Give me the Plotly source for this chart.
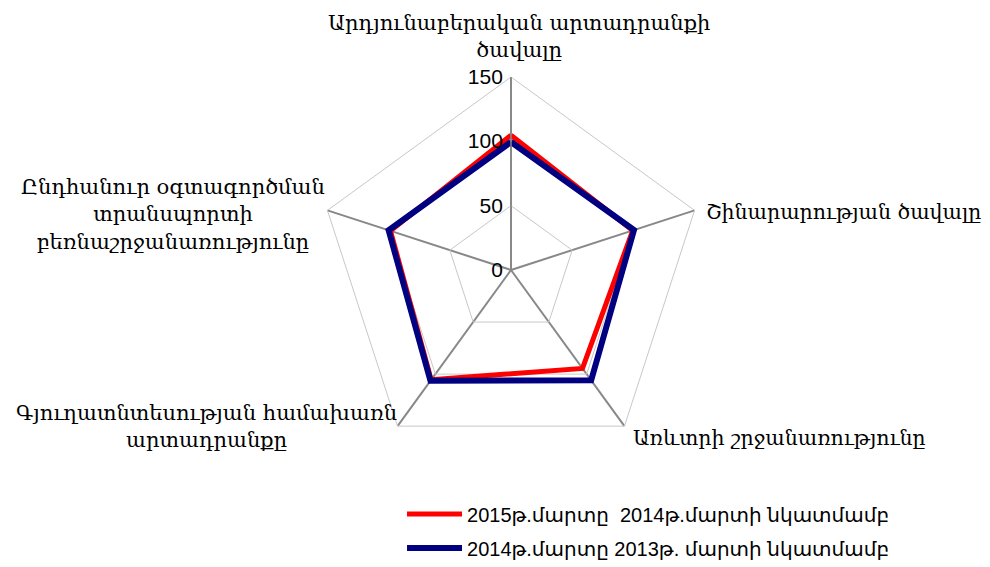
import plotly.graph_objects as go

categories = [
    "Արդյունաբերական արտադրանքի<br>ծավալը",
    "Շինարարության ծավալը",
    "Առևտրի շրջանառությունը",
    "Գյուղատնտեսության համախառն<br>արտադրանքը",
    "Ընդհանուր օգտագործման<br>տրանսպորտի<br>բեռնաշրջանառությունը",
]
series_2015 = [104.8, 99.5, 94.5, 105.5, 98.5]
series_2014 = [99.5, 100.5, 106.0, 106.5, 100.0]
name_2015 = "2015թ.մարտը  2014թ.մարտի նկատմամբ"
name_2014 = "2014թ.մարտը 2013թ. մարտի նկատմամբ"
radial_ticks = [0, 50, 100, 150]

keys = ["c%d" % i for i in range(len(categories))]

fig = go.Figure()
fig.add_trace(go.Scatterpolar(
    r=series_2015 + series_2015[:1], theta=keys + keys[:1], mode="lines",
    line=dict(color="#ff0000", width=5), name=name_2015, legendgroup="a"))
fig.add_trace(go.Scatterpolar(
    r=series_2014 + series_2014[:1], theta=keys + keys[:1], mode="lines",
    line=dict(color="#000080", width=6), name=name_2014, legendgroup="b"))

cx, cy, R = 503, 262, 193
fig.update_layout(
    width=990, height=567,
    margin=dict(l=0, r=0, t=0, b=0),
    paper_bgcolor="white", plot_bgcolor="white",
    polar=dict(
        domain=dict(x=[(cx - R) / 990, (cx + R) / 990],
                    y=[(567 - cy - R) / 567, (567 - cy + R) / 567]),
        gridshape="linear",
        bgcolor="white",
        radialaxis=dict(
            range=[0, 150], tickvals=radial_ticks, angle=90, tickangle=90,
            showline=True, linecolor="#888888", linewidth=1.5,
            gridcolor="#c8c8c8", gridwidth=1, ticks="",
            side="counterclockwise",
            tickfont=dict(family="Liberation Sans, Arial", size=21, color="#000000"),
        ),
        angularaxis=dict(
            type="category", categoryarray=keys, rotation=90, direction="clockwise",
            showticklabels=False, ticks="",
            showline=True, linecolor="#c8c8c8", linewidth=1,
            gridcolor="#888888", gridwidth=1.5,
        ),
    ),
    showlegend=True,
    legend=dict(
        x=0.398, y=0.142, xanchor="left", yanchor="top",
        font=dict(family="Liberation Sans, DejaVu Sans", size=20, color="#000000"),
        itemwidth=55, tracegroupgap=5, bgcolor="rgba(0,0,0,0)",
    ),
)

ann = [
    (categories[0], 511, 29, "center", 21),
    (categories[1], 696, 204, "left", 20.5),
    (categories[2], 623, 430, "left", 20.5),
    (categories[3], 198, 418, "center", 21),
    (categories[4], 165, 206, "center", 21),
]
for text, x, y, xa, fs in ann:
    fig.add_annotation(text=text, x=x / 990, y=1 - y / 567, xref="paper", yref="paper",
                       xanchor=xa, yanchor="middle", showarrow=False, align="center",
                       font=dict(family="DejaVu Serif", size=fs, color="#000000"))

fig.write_html("out.html")
